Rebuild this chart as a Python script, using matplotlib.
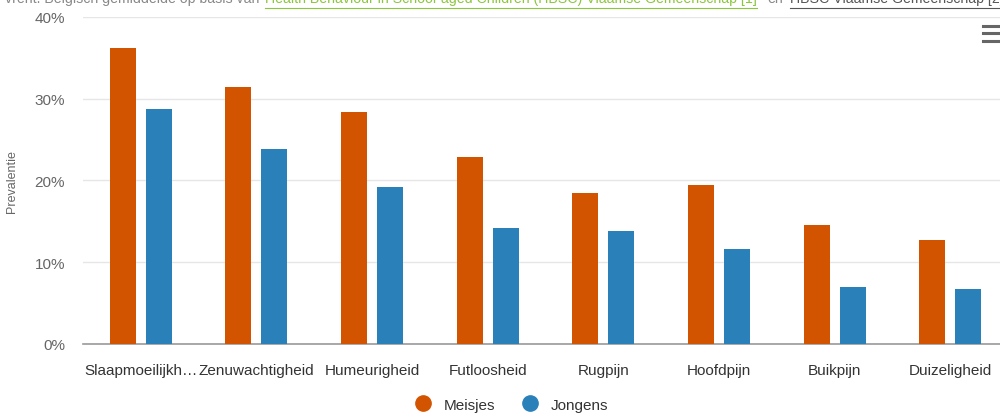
import matplotlib.pyplot as plt
from matplotlib.lines import Line2D
import numpy as np

plt.rcParams['font.family'] = ['Liberation Sans', 'DejaVu Sans']

categories = ['Slaapmoeilijkh…', 'Zenuwachtigheid', 'Humeurigheid', 'Futloosheid',
              'Rugpijn', 'Hoofdpijn', 'Buikpijn', 'Duizeligheid']
meisjes = [36.2, 31.4, 28.4, 22.9, 18.5, 19.4, 14.6, 12.7]
jongens = [28.7, 23.9, 19.2, 14.2, 13.8, 11.6, 7.0, 6.7]
yticks = [0, 10, 20, 30, 40]

c_meisjes = '#d35400'
c_jongens = '#2a80b9'

fig = plt.figure(figsize=(10, 4.14), dpi=100)
ax = fig.add_axes([0.083, 0.1667, 0.925, 0.79])

x = np.arange(len(categories))
w = 0.225
ax.bar(x - 0.156, meisjes, w, color=c_meisjes, zorder=3)
ax.bar(x + 0.156, jongens, w, color=c_jongens, zorder=3)

ax.set_xlim(-0.5, len(categories) - 0.5)
ax.set_ylim(0, 40)
ax.set_yticks(yticks)
ax.set_yticklabels([f'{v}%' for v in yticks], color='#666666', fontsize=11)
ax.set_xticks(x)
ax.set_xticklabels(categories, color='#333333', fontsize=11)
ax.tick_params(axis='both', length=0)
ax.tick_params(axis='x', pad=14)
ax.tick_params(axis='y', pad=13)
ax.grid(axis='y', color='#e6e6e6', linewidth=1, zorder=0)
for s in ['top', 'right', 'left']:
    ax.spines[s].set_visible(False)
ax.spines['bottom'].set_color('#999999')
ax.spines['bottom'].set_linewidth(1.2)
ax.set_ylabel('Prevalentie', color='#666666', fontsize=9)
ax.yaxis.set_label_coords(-0.070, 0.5)

# legend
handles = [Line2D([], [], marker='o', linestyle='', markersize=11, color=c_meisjes),
           Line2D([], [], marker='o', linestyle='', markersize=11, color=c_jongens)]
fig.legend(handles, ['Meisjes', 'Jongens'], loc='center', bbox_to_anchor=(0.508, 0.02),
           ncol=2, frameon=False, fontsize=11, handletextpad=0.35, columnspacing=1.3,
           labelcolor='#333333')

# subtitle line, only its lower half shows
y_sub = 1.003
kw = dict(fontsize=10.2, va='center')
fig.text(0.259, y_sub, 'vrent. Belgisch gemiddelde op basis van', color='#888888',
         ha='right', **kw)
fig.text(0.265, y_sub, 'Health Behaviour in School-aged Children (HBSC) Vlaamse Gemeenschap [1]',
         color='#8cc63f', **kw)
fig.text(0.767, y_sub, 'en', color='#888888', **kw)
fig.text(0.79, y_sub, 'HBSC Vlaamse Gemeenschap [2]', color='#555555', **kw)
fig.add_artist(Line2D([0.265, 0.757], [0.978, 0.978], color='#8cc63f', linewidth=0.8))
fig.add_artist(Line2D([0.79, 1.0], [0.978, 0.978], color='#555555', linewidth=0.8))

# menu icon
for yy in [0.935, 0.917, 0.899]:
    fig.add_artist(Line2D([0.983, 1.0], [yy, yy], color='#666666', linewidth=2.2))

fig.savefig('out.png', dpi=100)
